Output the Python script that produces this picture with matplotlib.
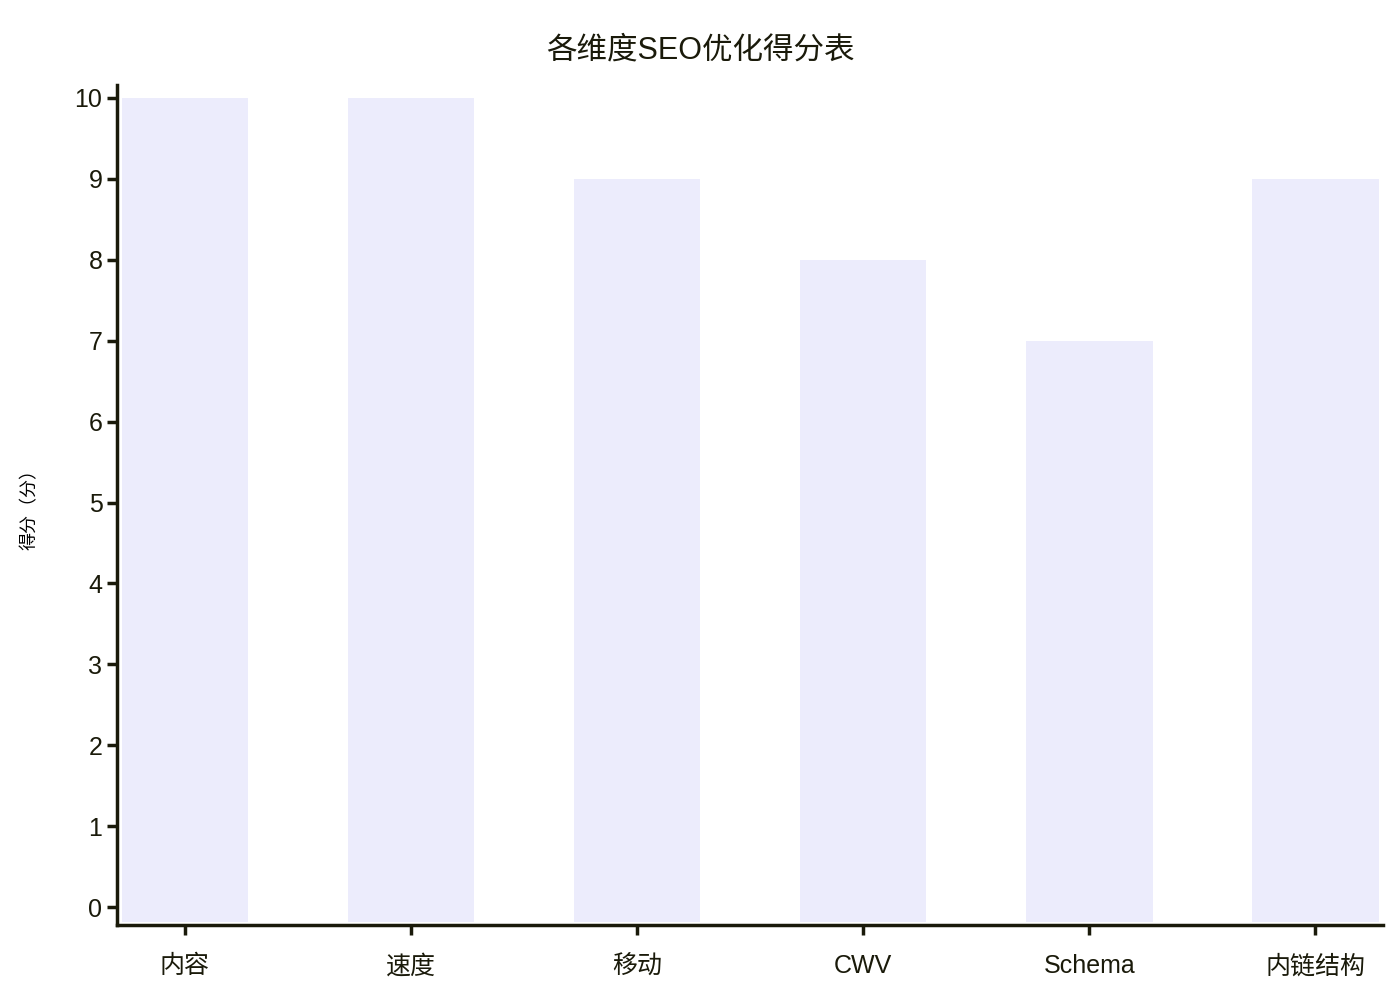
import matplotlib.pyplot as plt

plt.rcParams['font.family'] = ['Liberation Sans', 'Noto Sans CJK SC', 'DejaVu Sans']

categories = ['内容', '速度', '移动', 'CWV', 'Schema', '内链结构']
scores = [10, 10, 9, 8, 7, 9]
title = '各维度SEO优化得分表'
ylabel = '得分（分）'

fig = plt.figure(figsize=(14, 10), dpi=100)
ax = fig.add_axes([0.0836, 0.075, 0.9044, 0.84])

x = list(range(len(categories)))
# bars start a bit below zero, as in the original
base = -0.18
ax.bar(x, [s - base for s in scores], bottom=base, width=0.56, color='#ececfc')

ax.set_xlim(-0.3, 5.3)
ax.set_ylim(-0.22, 10.16)
ax.set_yticks(range(0, 11))
ax.set_xticks(x)
ax.set_xticklabels(categories)

for s in ['top', 'right']:
    ax.spines[s].set_visible(False)
for s in ['left', 'bottom']:
    ax.spines[s].set_color('#1a1a0a')
    ax.spines[s].set_linewidth(2.5)

ax.tick_params(axis='both', colors='#1a1a0a', width=2.5, length=7, labelsize=18)
ax.tick_params(axis='x', pad=14)
ax.set_ylabel(ylabel, fontsize=13, labelpad=26)
fig.suptitle(title, fontsize=22, y=0.965, color='#1a1a0a')

fig.savefig('out.png')
